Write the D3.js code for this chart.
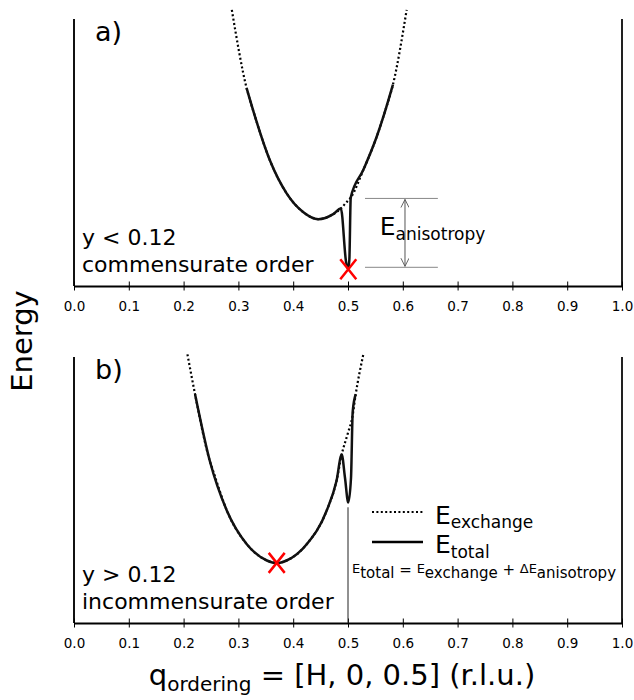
<!DOCTYPE html>
<html>
<head>
<meta charset="utf-8">
<script src="https://cdn.jsdelivr.net/npm/d3@7/dist/d3.min.js"></script>
<style>
	body { margin: 0; background: #fff; }
	text { font-family: 'DejaVu Sans', sans-serif; fill: #000; }
	.tick text { font-size: 13.5px; }
</style>
</head>
<body>
<div id="chart-area"></div>
<script>
// x ticks (r.l.u.)
var qTicks = [0.0, 0.1, 0.2, 0.3, 0.4, 0.5, 0.6, 0.7, 0.8, 0.9, 1.0];

// panel a) y < 0.12 - exchange energy (dotted) and total energy (solid), arbitrary units
var aExchangeQ = [0.288, 0.315, 0.327, 0.358, 0.388, 0.418, 0.446, 0.473, 0.487, 0.496, 0.505, 0.528, 0.552, 0.568, 0.582, 0.607];
var aExchangeE = [103.4, 74.1, 65.7, 46.8, 34.7, 27.7, 25.0, 26.9, 29.0, 31.1, 33.1, 43.5, 55.7, 65.7, 75.4, 103.4];
var aTotalQ = [0.315, 0.327, 0.358, 0.388, 0.418, 0.446, 0.473, 0.487, 0.4965, 0.5005, 0.5025, 0.505, 0.528, 0.552, 0.568, 0.582];
var aTotalE = [74.1, 65.7, 46.8, 34.7, 27.7, 25.0, 26.9, 29.0, 9.0, 6.3, 10.0, 33.1, 43.5, 55.7, 65.7, 75.4];
var aMinimum = [0.5005, 6.3];
var aAnisotropy = [7.0, 32.8];

// panel b) y > 0.12
var bExchangeQ = [0.207, 0.221, 0.248, 0.254, 0.279, 0.315, 0.352, 0.370, 0.388, 0.425, 0.461, 0.479, 0.4885, 0.500, 0.508, 0.514, 0.528];
var bExchangeE = [101.0, 85.9, 60.8, 57.1, 42.2, 29.7, 23.5, 22.5, 23.5, 29.7, 42.2, 53.4, 63.3, 71.5, 77.5, 85.9, 101.0];
var bTotalQ = [0.221, 0.248, 0.279, 0.315, 0.352, 0.370, 0.388, 0.425, 0.461, 0.479, 0.4885, 0.4945, 0.5005, 0.5055, 0.5086, 0.514];
var bTotalE = [85.9, 60.8, 42.2, 29.7, 23.5, 22.5, 23.5, 29.7, 42.2, 53.4, 63.3, 54.6, 45.3, 54.6, 79.5, 85.9];
var bMinimum = [0.3699, 22.6];
var bDip = [0.5, 43.5];

var width = 634, height = 700;

var svg = d3.select('#chart-area')
	.append('svg')
		.attr('width', width)
		.attr('height', height);

var defs = svg.append('defs');
defs.append('marker')
	.attr('id', 'head')
	.attr('viewBox', '0 -5 10 10')
	.attr('refX', 9)
	.attr('refY', 0)
	.attr('markerUnits', 'userSpaceOnUse')
	.attr('markerWidth', 9)
	.attr('markerHeight', 9)
	.attr('orient', 'auto-start-reverse')
	.append('path')
		.attr('d', 'M0,-4.5L9,0L0,4.5')
		.attr('fill', 'none')
		.attr('stroke', '#555')
		.attr('stroke-width', 1);

var x = d3.scaleLinear().domain([0, 1]).range([74, 622]);

var panel = function(top, bottom, label, exQ, exE, totQ, totE, minimum, note1, note2) {
	var y = d3.scaleLinear().domain([0, 100]).range([bottom, top]);
	var g = svg.append('g');

	var line = d3.line()
		.x(d => x(d[0]))
		.y(d => y(d[1]))
		.curve(d3.curveMonotoneX);

	g.append('path')
		.attr('d', line(d3.zip(exQ, exE)))
		.attr('fill', 'none')
		.attr('stroke', '#000')
		.attr('stroke-width', 2.2)
		.attr('stroke-dasharray', '2,2.4');

	g.append('path')
		.attr('d', line(d3.zip(totQ, totE)))
		.attr('fill', 'none')
		.attr('stroke', '#111')
		.attr('stroke-width', 2.5)
		.attr('stroke-linejoin', 'round');

	// spines
	g.append('line').attr('x1', x(0)).attr('x2', x(0)).attr('y1', top).attr('y2', bottom)
		.attr('stroke', '#111').attr('stroke-width', 2);
	g.append('line').attr('x1', x(1)).attr('x2', x(1)).attr('y1', top).attr('y2', bottom)
		.attr('stroke', '#222').attr('stroke-width', 2);

	var axis = g.append('g')
		.attr('transform', 'translate(0, ' + bottom + ')')
		.call(d3.axisBottom(x)
			.tickValues(qTicks)
			.tickFormat(d3.format('.1f'))
			.tickSizeOuter(0)
			.tickSizeInner(4.5)
			.tickPadding(11));
	axis.attr('font-size', 13.5).attr('font-family', "'DejaVu Sans', sans-serif");
	axis.select('.domain').attr('stroke', '#000').attr('stroke-width', 2);
	axis.selectAll('.tick line').attr('y1', -4.5).attr('stroke', '#000');

	g.append('text')
		.attr('x', 95)
		.attr('y', top + 22)
		.attr('font-size', '27px')
		.text(label);

	g.append('text')
		.attr('x', 82)
		.attr('y', bottom - 41)
		.attr('font-size', '22px')
		.text(note1);
	g.append('text')
		.attr('x', 82)
		.attr('y', bottom - 14)
		.attr('font-size', '22px')
		.text(note2);

	g.append('path')
		.attr('transform', 'translate(' + x(minimum[0]) + ',' + y(minimum[1]) + ')')
		.attr('d', 'M-8,-10L8,10M8,-10L-8,10')
		.attr('fill', 'none')
		.attr('stroke', '#f00')
		.attr('stroke-width', 2.5);

	return { g: g, y: y };
};

var a = panel(19, 286, 'a)', aExchangeQ, aExchangeE, aTotalQ, aTotalE, aMinimum, 'y < 0.12', 'commensurate order');
var b = panel(357, 623, 'b)', bExchangeQ, bExchangeE, bTotalQ, bTotalE, bMinimum, 'y > 0.12', 'incommensurate order');

// E_anisotropy annotation on panel a)
aAnisotropy.forEach(function(e) {
	a.g.append('line')
		.attr('x1', x(0.531)).attr('x2', x(0.664))
		.attr('y1', a.y(e)).attr('y2', a.y(e))
		.attr('stroke', '#888').attr('stroke-width', 1);
});
a.g.append('line')
	.attr('x1', x(0.604)).attr('x2', x(0.604))
	.attr('y1', a.y(aAnisotropy[1]) + 1).attr('y2', a.y(aAnisotropy[0]) - 1)
	.attr('stroke', '#555').attr('stroke-width', 1)
	.attr('marker-start', 'url(#head)')
	.attr('marker-end', 'url(#head)');
var an = a.g.append('text')
	.attr('x', x(0.558))
	.attr('y', 235)
	.attr('font-size', '25px')
	.text('E');
an.append('tspan').attr('dy', 5).attr('font-size', '17px').text('anisotropy');

// vertical guide at the commensurate dip on panel b)
b.g.append('line')
	.attr('x1', x(bDip[0])).attr('x2', x(bDip[0]))
	.attr('y1', b.y(bDip[1])).attr('y2', b.y(0))
	.attr('stroke', '#222').attr('stroke-width', 1);

// legend
var lg = svg.append('g');
lg.append('line')
	.attr('x1', 372).attr('x2', 423).attr('y1', 512).attr('y2', 512)
	.attr('stroke', '#000').attr('stroke-width', 2.2).attr('stroke-dasharray', '2,2.4');
lg.append('line')
	.attr('x1', 372).attr('x2', 423).attr('y1', 542).attr('y2', 542)
	.attr('stroke', '#000').attr('stroke-width', 2.5);
var l1 = lg.append('text').attr('x', 435).attr('y', 524).attr('font-size', '25px').text('E');
l1.append('tspan').attr('dy', 4).attr('font-size', '17px').text('exchange');
var l2 = lg.append('text').attr('x', 435).attr('y', 553).attr('font-size', '25px').text('E');
l2.append('tspan').attr('dy', 5).attr('font-size', '17px').text('total');

var f = lg.append('text').attr('x', 352).attr('y', 573).attr('font-size', '13px');
f.append('tspan').text('E');
f.append('tspan').attr('dy', 5).attr('font-size', '15px').text('total');
f.append('tspan').attr('dy', -3).attr('font-size', '15px').text(' = ');
f.append('tspan').attr('dy', -2).text('E');
f.append('tspan').attr('dy', 5).attr('font-size', '15px').text('exchange');
f.append('tspan').attr('dy', -3).attr('font-size', '15px').text(' + ');
f.append('tspan').attr('dy', -2).text('\u0394E');
f.append('tspan').attr('dy', 5).attr('font-size', '15px').text('anisotropy');

// axis titles
svg.append('text')
	.attr('transform', 'translate(32, 341) rotate(-90)')
	.attr('text-anchor', 'middle')
	.attr('font-size', '29px')
	.text('Energy');

var xl = svg.append('text')
	.attr('x', 342)
	.attr('y', 685)
	.attr('text-anchor', 'middle')
	.attr('font-size', '29px')
	.text('q');
xl.append('tspan').attr('dy', 6).attr('font-size', '20px').text('ordering');
xl.append('tspan').attr('dy', -6).text(' = [H, 0, 0.5] (r.l.u.)');
</script>
</body>
</html>
